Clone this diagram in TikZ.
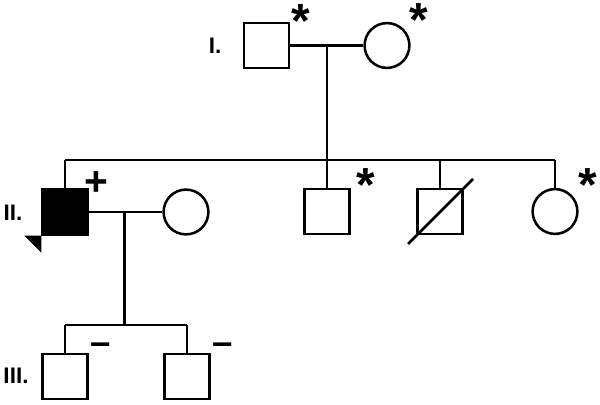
\documentclass[tikz,border=0pt]{standalone}
\usepackage{fontspec}
\setmainfont{Liberation Sans}
\usepackage{tikz}
\usetikzlibrary{calc}

\tikzset{
  person/.style={draw, line width=1.8pt, minimum size=1.12cm, inner sep=0pt},
  male/.style={person, rectangle},
  female/.style={person, circle},
  gen/.style={font=\bfseries\fontsize{16}{18}\selectfont, inner sep=0pt},
  sign/.style={font=\bfseries\fontsize{34}{34}\selectfont, inner sep=0pt},
  plus/.style={font=\bfseries\fontsize{29}{29}\selectfont, inner sep=0pt},
  minus/.style={font=\bfseries\fontsize{26}{26}\selectfont, inner sep=0pt},
  line/.style={line width=1.8pt}
}

\begin{document}
\begin{tikzpicture}[x=0.025cm, y=-0.025cm]
\useasboundingbox (0,0) rectangle (600,405);

% Generation labels
\node[gen] (gI)   at (215, 46)  {I.};
\node[gen] (gII)  at (13, 213)  {II.};
\node[gen] (gIII) at (16, 376)  {III.};

% Generation I
\node[male]   (I1) at (266.5, 45.5) {};
\node[female] (I2) at (387, 45.5)   {};
\coordinate (mI) at (327, 45.5);
\coordinate (sI) at (327, 160);
\draw[line] (I1.east) -- (I2.west);
\draw[line] (mI) -- (sI);

% Generation II
\node[male, fill=black] (II1) at (65, 212)    {};
\node[female]           (II2) at (186, 212)   {};
\node[male]             (II3) at (327, 211.5) {};
\node[male]             (II4) at (440, 211.5) {};
\node[female]           (II5) at (555, 211.5) {};

\draw[line] (II1.north |- sI) -- (II5.north |- sI);
\foreach \n in {II1, II3, II4, II5}
  \draw[line] (\n.north) -- (\n.north |- sI);

% deceased
\draw[line] ($(II4.center)+(-32,32.5)$) -- ($(II4.center)+(33,-32.5)$);

% proband
\fill (II1.south west) -- ++(-17,0) -- ++(17,17) -- cycle;

\coordinate (mII) at (124.5, 212);
\coordinate (sII) at (124.5, 325);
\draw[line] (II1.east) -- (II2.west);
\draw[line] (mII) -- (sII);

% Generation III
\node[male] (III1) at (65, 376.5)  {};
\node[male] (III2) at (187, 376.5) {};
\draw[line] (III1.north |- sII) -- (III2.north |- sII);
\foreach \n in {III1, III2}
  \draw[line] (\n.north) -- (\n.north |- sII);

% Signs
\node[sign] (sI1)  at (301, 21.5) {*};
\node[sign] (sI2)  at (419, 20.5) {*};
\node[sign] (sII3) at (366, 185)  {*};
\node[sign] (sII5) at (588, 185)  {*};
\node[plus] (pII1) at (96, 184)   {+};
\node[minus] (nIII1) at (101, 349) {–};
\node[minus] (nIII2) at (223, 349) {–};

\end{tikzpicture}
\end{document}
